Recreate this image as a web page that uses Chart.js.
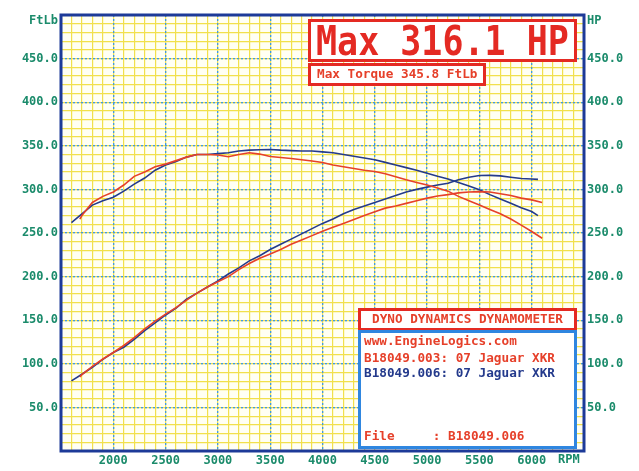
<!DOCTYPE html>
<html>
<head>
<meta charset="utf-8">
<script src="https://cdn.jsdelivr.net/npm/chart.js@4/dist/chart.umd.min.js"></script>
<style>
    html, body { margin: 0; padding: 0; background: #fff; }
</style>
</head>
<body>
<canvas id="dynoChart" width="639" height="471"></canvas>
<script>
    // ========== Data ==========
    const blueRpm = [1600, 1700, 1800, 1900, 2000, 2100, 2200, 2300, 2400, 2500, 2600, 2700, 2800, 2900, 3000,
        3100, 3200, 3300, 3400, 3500, 3600, 3700, 3800, 3900, 4000, 4100, 4200, 4300, 4400, 4500, 4600, 4700,
        4800, 4900, 5000, 5100, 5200, 5300, 5400, 5500, 5600, 5700, 5800, 5900, 6000, 6060];
    const blueTorque = [262, 272, 282, 287, 291, 298, 306, 313, 322, 328, 332, 337, 340, 340, 341,
        342, 344, 345, 345.5, 345.8, 345, 344.5, 344, 344, 343, 342, 340, 338, 336, 334, 331, 328,
        325, 322, 318.6, 315, 312, 308, 304, 299.5, 294, 289, 284, 279, 274.6, 270];
    const blueHp = [80.5, 88, 96, 105, 113, 119, 128, 138, 147, 156, 164, 174, 181, 188, 195,
        203, 210, 218, 224, 231, 237, 243, 249, 255, 261, 266, 272, 277, 281, 285, 289, 293,
        297, 300, 302.6, 305, 307, 311, 314, 316, 316.1, 315.5, 314, 312.5, 312, 311.5];

    const redRpm = [1680, 1700, 1800, 1900, 2000, 2100, 2200, 2300, 2400, 2500, 2600, 2700, 2800, 2900, 3000,
        3100, 3200, 3300, 3400, 3500, 3600, 3700, 3800, 3900, 4000, 4100, 4200, 4300, 4400, 4500, 4600, 4700,
        4800, 4900, 5000, 5100, 5200, 5300, 5400, 5500, 5600, 5700, 5800, 5900, 6000, 6100];
    const redTorque = [266, 270, 285, 292, 297, 305, 315, 320, 326, 329, 333, 337, 340, 340, 339.5,
        337.5, 340, 342, 340.5, 337.7, 336.5, 335.5, 334, 332.5, 330.8, 328, 326, 324, 322, 320.5, 318, 314.5,
        311, 308, 305, 301.5, 298, 292, 287, 282, 277, 272, 266, 259, 251.7, 244];
    const redHp = [85, 87.5, 97, 105.5, 113, 121, 130, 140, 149, 157, 164.5, 173, 181, 188, 194,
        200, 208, 215, 221, 226, 231, 237, 242, 247, 252, 256.5, 261, 265.5, 270, 274.5, 278.5, 281,
        284, 287, 290, 292.5, 294, 296, 297, 297.5, 297, 295, 293, 290, 288, 285];

    const rpmMin = 1500, rpmMax = 6500;
    const valMin = 0, valMax = 500;

    const RED = '#e6402a';
    const BLUE = '#243a8c';
    const GREEN = '#1b8b6b';
    const MONO = '"DejaVu Sans Mono", "Liberation Mono", monospace';

    const pts = (xs, ys) => xs.map((x, i) => ({ x: x, y: ys[i] }));

    // ========== Decorations: paper, frame, title boxes ==========
    const dynoSheet = {
        id: 'dynoSheet',
        beforeDraw(chart) {
            const { ctx, chartArea: a } = chart;
            ctx.save();
            ctx.fillStyle = '#fffff3';
            ctx.fillRect(a.left, a.top, a.right - a.left, a.bottom - a.top);
            ctx.restore();
        },
        afterDraw(chart) {
            const { ctx, chartArea: a } = chart;
            ctx.save();

            // plot frame
            ctx.strokeStyle = '#1d3a98';
            ctx.lineWidth = 3;
            ctx.strokeRect(a.left, a.top, a.right - a.left, a.bottom - a.top);

            // unit labels
            ctx.fillStyle = GREEN;
            ctx.font = 'bold 12px ' + MONO;
            ctx.textBaseline = 'middle';
            ctx.textAlign = 'right';
            ctx.fillText('FtLb', a.left - 3, 21);
            ctx.textAlign = 'left';
            ctx.fillText('HP', a.right + 3, 21);
            ctx.fillText('RPM', 558, 460);

            function box(x, y, w, h, color) {
                ctx.fillStyle = '#fff';
                ctx.fillRect(x, y, w, h);
                ctx.strokeStyle = color;
                ctx.lineWidth = 3;
                ctx.strokeRect(x, y, w, h);
            }

            // Max HP box
            box(309.5, 20.5, 266, 40, '#e42a23');
            ctx.save();
            ctx.translate(316, 55);
            ctx.scale(1, 1.17);
            ctx.fillStyle = '#e42a23';
            ctx.font = 'bold 35px ' + MONO;
            ctx.textBaseline = 'alphabetic';
            ctx.textAlign = 'left';
            ctx.fillText('Max 316.1 HP', 0, 0);
            ctx.restore();

            // Max torque box
            box(309.5, 64.5, 175, 20, '#e42a23');
            ctx.fillStyle = RED;
            ctx.font = 'bold 12.7px ' + MONO;
            ctx.textBaseline = 'middle';
            ctx.textAlign = 'left';
            ctx.fillText('Max Torque 345.8 FtLb', 317, 75);

            // Legend boxes
            box(359.5, 309.5, 216, 20, '#e42a23');
            ctx.fillStyle = RED;
            ctx.textAlign = 'center';
            ctx.fillText('DYNO DYNAMICS DYNAMOMETER', 467.5, 320);

            box(359.5, 331.5, 216, 116, '#2f86e0');
            ctx.textAlign = 'left';
            ctx.fillStyle = RED;
            ctx.fillText('www.EngineLogics.com', 364, 342);
            ctx.fillText('B18049.003: 07 Jaguar XKR', 364, 359);
            ctx.fillStyle = BLUE;
            ctx.fillText('B18049.006: 07 Jaguar XKR', 364, 373.5);
            ctx.fillStyle = RED;
            ctx.fillText('File     : B18049.006', 364, 437);

            ctx.restore();
        }
    };

    const tickFont = { family: MONO, size: 12, weight: 'bold' };

    new Chart(document.getElementById('dynoChart'), {
        type: 'line',
        data: {
            datasets: [
                { label: 'B18049.003 Torque', data: pts(redRpm, redTorque), borderColor: RED },
                { label: 'B18049.003 HP', data: pts(redRpm, redHp), borderColor: RED },
                { label: 'B18049.006 Torque', data: pts(blueRpm, blueTorque), borderColor: BLUE },
                { label: 'B18049.006 HP', data: pts(blueRpm, blueHp), borderColor: BLUE }
            ].map(d => Object.assign(d, {
                xAxisID: 'x', yAxisID: 'y',
                borderWidth: 1.6, pointRadius: 0, tension: 0, fill: false
            }))
        },
        options: {
            responsive: false,
            animation: false,
            layout: { padding: { top: 15, left: 0, right: 0, bottom: 0 } },
            plugins: {
                legend: { display: false },
                tooltip: { enabled: false },
                title: { display: false }
            },
            scales: {
                // fine yellow graph-paper grid
                xFine: {
                    type: 'linear', position: 'bottom', min: rpmMin, max: rpmMax, z: -2,
                    ticks: { display: false, stepSize: 100, maxTicksLimit: 1000 },
                    grid: { color: '#f1e04c', lineWidth: 1.2, drawTicks: false },
                    border: { display: false },
                    afterFit: s => { s.height = 0; }
                },
                yFine: {
                    type: 'linear', position: 'left', min: valMin, max: valMax, z: -2,
                    ticks: { display: false, stepSize: 10, maxTicksLimit: 1000 },
                    grid: { color: '#f1e04c', lineWidth: 1.2, drawTicks: false },
                    border: { display: false },
                    afterFit: s => { s.width = 0; }
                },
                // main blue dotted grid with labels
                x: {
                    type: 'linear', position: 'bottom', min: rpmMin, max: rpmMax, z: -1,
                    ticks: {
                        stepSize: 500, color: GREEN, font: tickFont, padding: 3, maxRotation: 0,
                        callback: v => (v === rpmMin || v === rpmMax) ? null : String(v)
                    },
                    grid: { color: '#3d98e6', lineWidth: 1.3, drawTicks: false },
                    border: { display: false, dash: [2, 2] },
                    afterFit: s => { s.height = 20; }
                },
                y: {
                    type: 'linear', position: 'left', min: valMin, max: valMax, z: -1,
                    ticks: {
                        stepSize: 50, color: GREEN, font: tickFont, padding: 3,
                        callback: v => (v === valMin || v === valMax) ? null : v.toFixed(1)
                    },
                    grid: { color: '#3d98e6', lineWidth: 1.3, drawTicks: false },
                    border: { display: false, dash: [2, 2] },
                    afterFit: s => { s.width = 61; }
                },
                yRight: {
                    type: 'linear', position: 'right', min: valMin, max: valMax,
                    ticks: {
                        stepSize: 50, color: GREEN, font: tickFont, padding: 3,
                        callback: v => (v === valMin || v === valMax) ? null : v.toFixed(1)
                    },
                    grid: { display: false, drawTicks: false },
                    border: { display: false },
                    afterFit: s => { s.width = 55; }
                }
            }
        },
        plugins: [dynoSheet]
    });
</script>
</body>
</html>
